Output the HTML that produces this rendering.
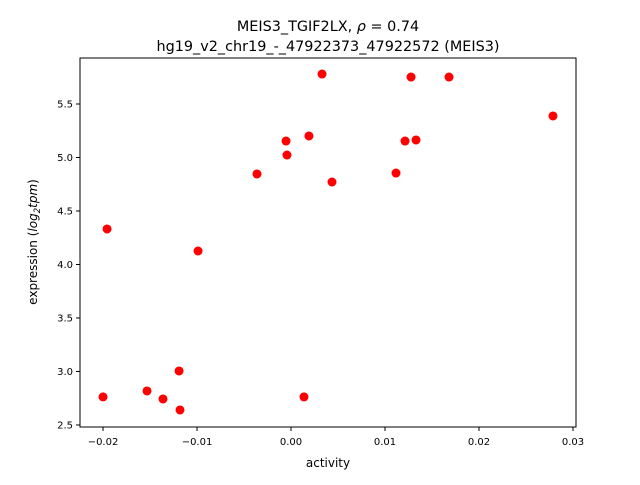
<!DOCTYPE html>
<html><head><meta charset="utf-8"><style>
body{margin:0;background:#fff;}
svg text{font-family:"DejaVu Sans","Liberation Sans",sans-serif;fill:#000;}
</style></head><body>
<svg id="chart" width="640" height="480" viewBox="0 0 640 480">
<rect width="640" height="480" fill="#fff"/>
<text x="328" y="31" font-size="14.4" text-anchor="middle">MEIS3_TGIF2LX, <tspan font-style="italic">ρ</tspan> = 0.74</text>
<text x="328" y="51" font-size="14.4" text-anchor="middle">hg19_v2_chr19_-_47922373_47922572 (MEIS3)</text>
<g id="points"></g>
<rect x="80" y="58" width="496" height="369" fill="none" stroke="#000" stroke-width="1"/>
<g id="xticks"></g>
<g id="yticks"></g>
<text x="328" y="467" font-size="12" text-anchor="middle">activity</text>
<text transform="translate(37,242) rotate(-90)" font-size="12" text-anchor="middle">expression (<tspan font-style="italic">log</tspan><tspan font-size="8.5" dy="3" font-style="italic">2</tspan><tspan dy="-3" font-style="italic">tpm</tspan>)</text>
</svg>
<script>
const xValues=[-0.01957,-0.0200,-0.01532,-0.01362,-0.01191,-0.01181,-0.00989,-0.00362,-0.00053,-0.00043,0.00138,0.00191,0.00330,0.00436,0.01117,0.01213,0.01277,0.01330,0.01681,0.02787];
const yValues=[4.332,2.762,2.818,2.743,3.005,2.640,4.126,4.846,5.154,5.023,2.762,5.201,5.780,4.771,4.855,5.154,5.752,5.164,5.752,5.388];
const xTicks=[-0.02,-0.01,0.00,0.01,0.02,0.03];
const xTickLabels=["−0.02","−0.01","0.00","0.01","0.02","0.03"];
const yTicks=[2.5,3.0,3.5,4.0,4.5,5.0,5.5];
const yTickLabels=["2.5","3.0","3.5","4.0","4.5","5.0","5.5"];
const xMin=-0.02245,xMax=0.03032,yMin=2.481,yMax=5.930;
const L=80,R=576,T=58,B=427;
const sx=v=>L+(v-xMin)/(xMax-xMin)*(R-L);
const sy=v=>B-(v-yMin)/(yMax-yMin)*(B-T);
const NS="http://www.w3.org/2000/svg";
const pts=document.getElementById('points');
xValues.forEach((x,i)=>{
 const c=document.createElementNS(NS,'circle');
 c.setAttribute('cx',sx(x));c.setAttribute('cy',sy(yValues[i]));c.setAttribute('r',4.5);c.setAttribute('fill','#ff0000');
 
 
 pts.appendChild(c);
});
const xg=document.getElementById('xticks');
xTicks.forEach((t,i)=>{
 const x=sx(t);
 const l=document.createElementNS(NS,'line');
 l.setAttribute('x1',x);l.setAttribute('x2',x);l.setAttribute('y1',B);l.setAttribute('y2',B+4);l.setAttribute('stroke','#000');
 
 
 xg.appendChild(l);
 const tx=document.createElementNS(NS,'text');
 tx.setAttribute('x',x);tx.setAttribute('y',B+18);tx.setAttribute('font-size','10');tx.setAttribute('text-anchor','middle');
 tx.textContent=xTickLabels[i];
 
 
 xg.appendChild(tx);
});
const yg=document.getElementById('yticks');
yTicks.forEach((t,i)=>{
 const y=sy(t);
 const l=document.createElementNS(NS,'line');
 l.setAttribute('x1',L-4);l.setAttribute('x2',L);l.setAttribute('y1',y);l.setAttribute('y2',y);l.setAttribute('stroke','#000');
 
 
 yg.appendChild(l);
 const tx=document.createElementNS(NS,'text');
 tx.setAttribute('x',L-7);tx.setAttribute('y',y+3.5);tx.setAttribute('font-size','10');tx.setAttribute('text-anchor','end');
 tx.textContent=yTickLabels[i];
 
 
 yg.appendChild(tx);
});
</script>
</body></html>
